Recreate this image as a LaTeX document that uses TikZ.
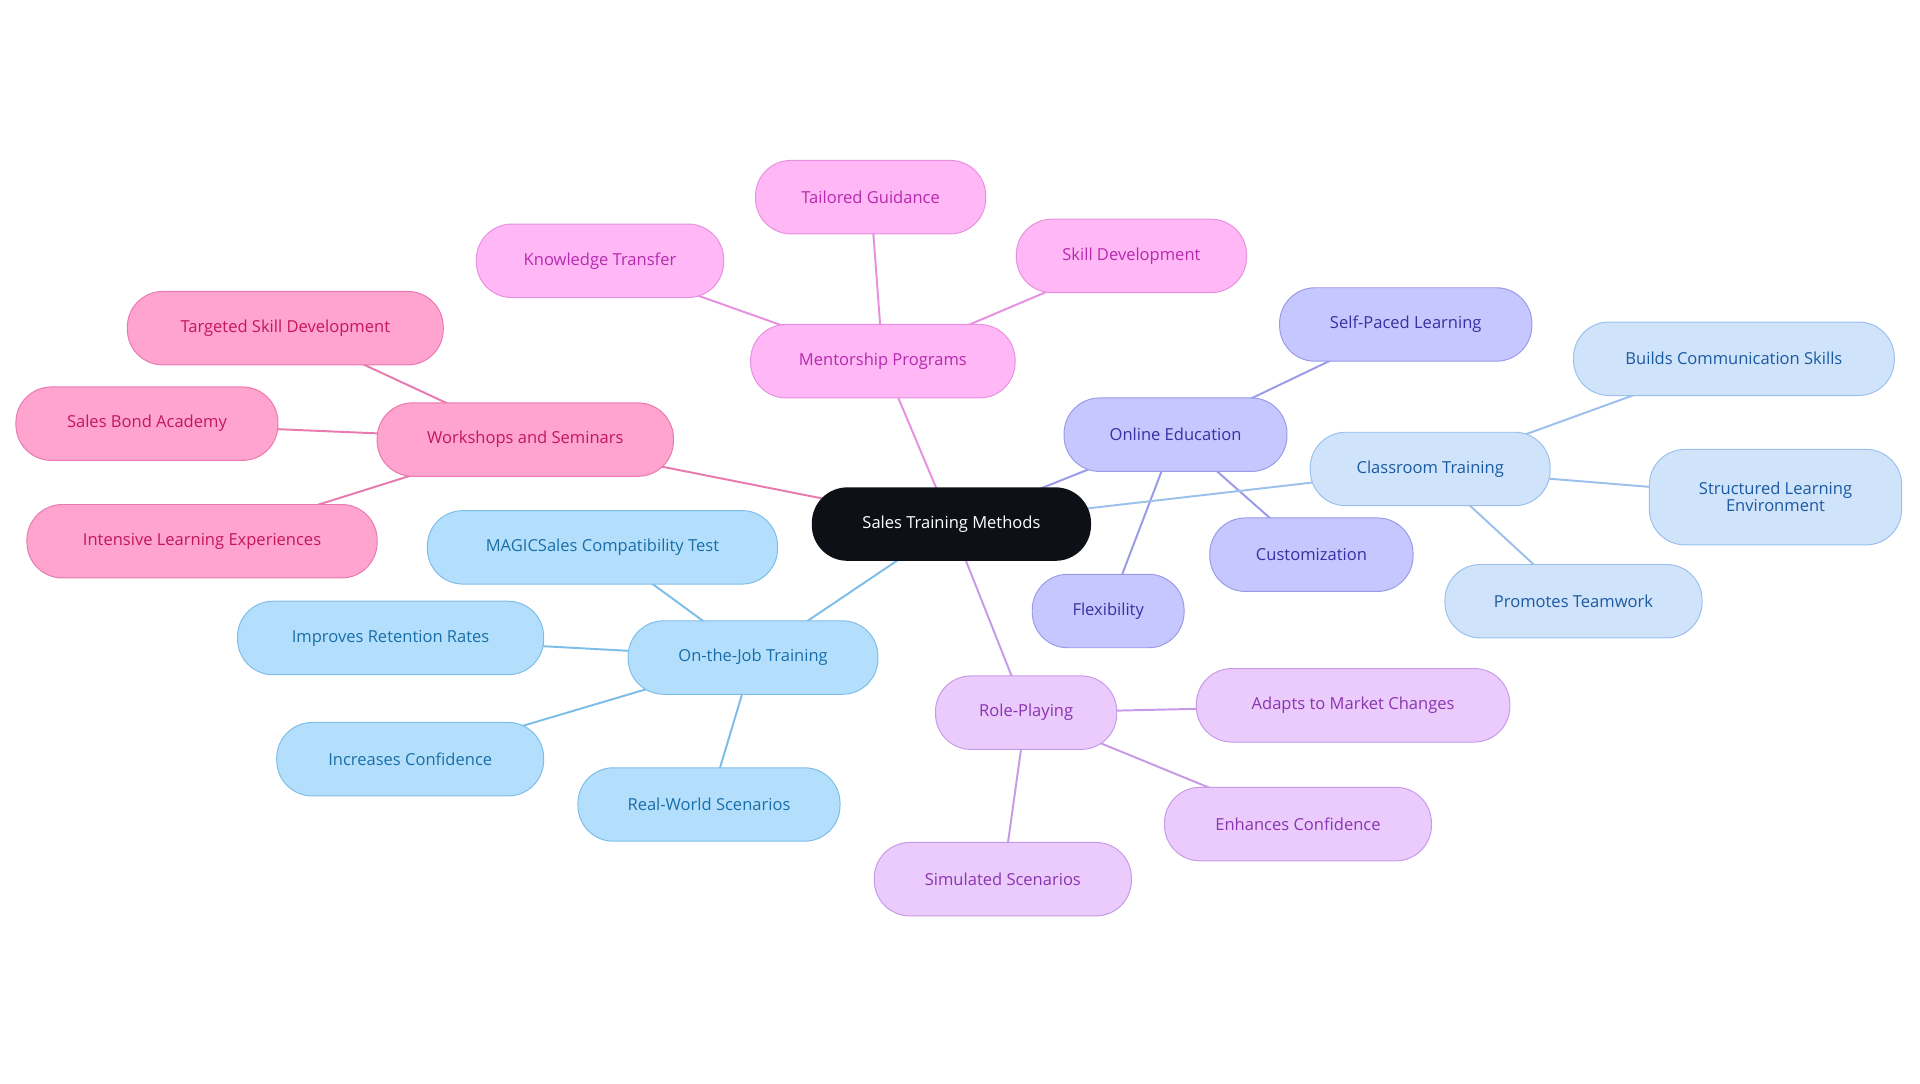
\documentclass[tikz,border=0pt]{standalone}
\usepackage{fontspec}
\setmainfont{Open Sans}
\usetikzlibrary{backgrounds}
\definecolor{rootfill}{HTML}{0D1117}
\definecolor{wsfill}{HTML}{FFA3CF}\definecolor{wsdraw}{HTML}{E87AB0}\definecolor{wstext}{HTML}{C2185B}
\definecolor{mpfill}{HTML}{FFB8F5}\definecolor{mpdraw}{HTML}{E890E0}\definecolor{mptext}{HTML}{B52AAE}
\definecolor{oefill}{HTML}{C7C7FF}\definecolor{oedraw}{HTML}{9A9AE8}\definecolor{oetext}{HTML}{3A2FA0}
\definecolor{ctfill}{HTML}{CFE3FB}\definecolor{ctdraw}{HTML}{9CC0EC}\definecolor{cttext}{HTML}{1C5AA0}
\definecolor{jtfill}{HTML}{B3DFFC}\definecolor{jtdraw}{HTML}{7EBDE8}\definecolor{jttext}{HTML}{1A6EA8}
\definecolor{rpfill}{HTML}{EACBFC}\definecolor{rpdraw}{HTML}{C79AE8}\definecolor{rptext}{HTML}{8A35B0}
\tikzset{
  pill/.style={rounded corners=29pt, minimum height=60pt, align=center, font=\fontsize{13.5}{15}\selectfont, line width=0.8pt},
  ws/.style={pill, fill=wsfill, draw=wsdraw, text=wstext},
  mp/.style={pill, fill=mpfill, draw=mpdraw, text=mptext},
  oe/.style={pill, fill=oefill, draw=oedraw, text=oetext},
  ct/.style={pill, fill=ctfill, draw=ctdraw, text=cttext},
  jt/.style={pill, fill=jtfill, draw=jtdraw, text=jttext},
  rp/.style={pill, fill=rpfill, draw=rpdraw, text=rptext},
  link/.style={line width=1.6pt}
}
\begin{document}
\begin{tikzpicture}[x=1pt,y=-1pt]
\useasboundingbox (0,0) rectangle (1568,885);
\node[pill, fill=rootfill, text=white, minimum width=228pt] (root) at (777,428) {Sales Training Methods};
% workshops
\node[ws, minimum width=242pt] (ws) at (429,359) {Workshops and Seminars};
\node[ws, minimum width=258pt] (ws1) at (233,268) {Targeted Skill Development};
\node[ws, minimum width=214pt] (ws2) at (120,346) {Sales Bond Academy};
\node[ws, minimum width=286pt] (ws3) at (165,442) {Intensive Learning Experiences};
% mentorship
\node[mp, minimum width=216pt] (mp) at (721,295) {Mentorship Programs};
\node[mp, minimum width=202pt] (mp1) at (490,213) {Knowledge Transfer};
\node[mp, minimum width=188pt] (mp2) at (711,161) {Tailored Guidance};
\node[mp, minimum width=188pt] (mp3) at (924,209) {Skill Development};
% online
\node[oe, minimum width=182pt] (oe) at (960,355) {Online Education};
\node[oe, minimum width=206pt] (oe1) at (1148,265) {Self-Paced Learning};
\node[oe, minimum width=166pt] (oe2) at (1071,453) {Customization};
\node[oe, minimum width=124pt] (oe3) at (905,499) {Flexibility};
% classroom
\node[ct, minimum width=196pt] (ct) at (1168,383) {Classroom Training};
\node[ct, minimum width=262pt] (ct1) at (1416,293) {Builds Communication Skills};
\node[ct, minimum width=206pt, minimum height=78pt, font=\fontsize{13.5}{14}\selectfont] (ct2) at (1450,406) {Structured Learning\\Environment};
\node[ct, minimum width=210pt] (ct3) at (1285,491) {Promotes Teamwork};
% on the job
\node[jt, minimum width=204pt] (jt) at (615,537) {On-the-Job Training};
\node[jt, minimum width=286pt] (jt1) at (492,447) {MAGICSales Compatibility Test};
\node[jt, minimum width=250pt] (jt2) at (319,521) {Improves Retention Rates};
\node[jt, minimum width=218pt] (jt3) at (335,620) {Increases Confidence};
\node[jt, minimum width=214pt] (jt4) at (579,657) {Real-World Scenarios};
% role playing
\node[rp, minimum width=148pt] (rp) at (838,582) {Role-Playing};
\node[rp, minimum width=256pt] (rp1) at (1105,576) {Adapts to Market Changes};
\node[rp, minimum width=218pt] (rp2) at (1060,673) {Enhances Confidence};
\node[rp, minimum width=210pt] (rp3) at (819,718) {Simulated Scenarios};
\begin{scope}[on background layer]
\draw[link, wsdraw] (root.center) -- (ws.center);
\foreach \n in {ws1,ws2,ws3} \draw[link, wsdraw] (ws.center) -- (\n.center);
\draw[link, mpdraw] (root.center) -- (mp.center);
\foreach \n in {mp1,mp2,mp3} \draw[link, mpdraw] (mp.center) -- (\n.center);
\draw[link, oedraw] (root.center) -- (oe.center);
\foreach \n in {oe1,oe2,oe3} \draw[link, oedraw] (oe.center) -- (\n.center);
\draw[link, ctdraw] (root.center) -- (ct.center);
\foreach \n in {ct1,ct2,ct3} \draw[link, ctdraw] (ct.center) -- (\n.center);
\draw[link, jtdraw] (root.center) -- (jt.center);
\foreach \n in {jt1,jt2,jt3,jt4} \draw[link, jtdraw] (jt.center) -- (\n.center);
\draw[link, rpdraw] (root.center) -- (rp.center);
\foreach \n in {rp1,rp2,rp3} \draw[link, rpdraw] (rp.center) -- (\n.center);
\end{scope}
\end{tikzpicture}
\end{document}
